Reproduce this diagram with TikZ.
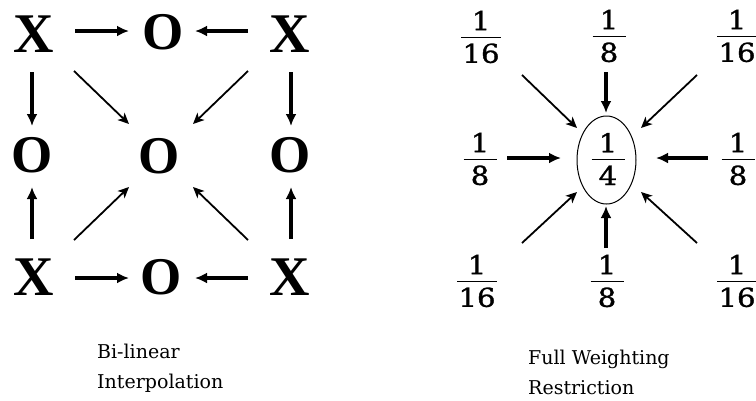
\documentclass[tikz,border=0pt]{standalone}
\usepackage{fontspec}
\usepackage{graphicx}
\setmainfont{Liberation Serif}
\newfontfamily\capfont{DejaVu Serif}
\newfontfamily\fracfont[FakeBold=1.2]{DejaVu Serif}
\usetikzlibrary{arrows.meta,shapes.geometric}
\newcommand{\widedig}[1]{\scalebox{1.12}[1]{#1}}
\newcommand{\myfr}[3]{\vbox{\offinterlineskip\hsize=#1
  \hbox to #1{\hfil\widedig{#2}\hfil}\vskip 6.5pt\hrule height 1.4pt\vskip 5.5pt
  \hbox to #1{\hfil\widedig{#3}\hfil}}}
\begin{document}
\begin{tikzpicture}[x=1pt,y=-1pt,
  bigx/.style={font=\fontsize{56}{56}\selectfont\bfseries, inner sep=0pt},
  bigo/.style={font=\fontsize{53}{53}\selectfont\bfseries, inner sep=0pt},
  frac/.style={font=\fracfont\fontsize{26}{30}\selectfont, inner sep=0pt},
  captxt/.style={font=\capfont\fontsize{19}{30}\selectfont, align=left, anchor=north west, inner sep=0pt},
  thickarr/.style={line width=3.2pt, -{Latex[length=12pt,width=11pt]}},
  thinarr/.style={line width=1.8pt, -{Stealth[length=11pt,width=10pt,inset=3pt]}}]
\useasboundingbox (0,0) rectangle (756,400);
% left grid
\node[bigx] (x1) at (34,34) {X};
\node[bigo] (o1) at (163,32) {O};
\node[bigx] (x2) at (290,34) {X};
\node[bigo] (o2) at (32,155) {O};
\node[bigo] (o0) at (159,156) {O};
\node[bigo] (o3) at (290,155) {O};
\node[bigx] (x3) at (34,277) {X};
\node[bigo] (o4) at (161,277) {O};
\node[bigx] (x4) at (290,277) {X};
\coordinate (a1) at (75,31); \coordinate (b1) at (129,31);
\coordinate (a2) at (248,31); \coordinate (b2) at (195,31);
\coordinate (a3) at (75,278); \coordinate (b3) at (129,278);
\coordinate (a4) at (248,278); \coordinate (b4) at (195,278);
\coordinate (a5) at (32,72); \coordinate (b5) at (32,126);
\coordinate (a6) at (291,72); \coordinate (b6) at (291,126);
\coordinate (a7) at (32,239); \coordinate (b7) at (32,187);
\coordinate (a8) at (291,239); \coordinate (b8) at (291,187);
\draw[thickarr] (a1) -- (b1);
\draw[thickarr] (a2) -- (b2);
\draw[thickarr] (a3) -- (b3);
\draw[thickarr] (a4) -- (b4);
\draw[thickarr] (a5) -- (b5);
\draw[thickarr] (a6) -- (b6);
\draw[thickarr] (a7) -- (b7);
\draw[thickarr] (a8) -- (b8);
\coordinate (d1) at (74,71); \coordinate (e1) at (129,124);
\coordinate (d2) at (248,71); \coordinate (e2) at (193,124);
\coordinate (d3) at (74,240); \coordinate (e3) at (129,187);
\coordinate (d4) at (248,240); \coordinate (e4) at (193,187);
\draw[thinarr] (d1) -- (e1);
\draw[thinarr] (d2) -- (e2);
\draw[thinarr] (d3) -- (e3);
\draw[thinarr] (d4) -- (e4);
\node[captxt] (c1) at (97,344) {Bi-linear\\Interpolation};
% right diagram
\node[frac] (f1) at (481,37) {\myfr{40pt}{1}{16}};
\node[frac] (f2) at (609,36) {\myfr{33pt}{1}{8}};
\node[frac] (f3) at (737,36) {\myfr{40pt}{1}{16}};
\node[frac] (f4) at (480,159) {\myfr{33pt}{1}{8}};
\node[frac] (f0) at (608,159) {\myfr{33pt}{1}{4}};
\node[frac] (f5) at (738,159) {\myfr{33pt}{1}{8}};
\node[frac] (f6) at (477,281) {\myfr{40pt}{1}{16}};
\node[frac] (f7) at (607,281) {\myfr{33pt}{1}{8}};
\node[frac] (f8) at (737,281) {\myfr{40pt}{1}{16}};
\node[draw, ellipse, line width=1pt, minimum width=59pt, minimum height=88pt, inner sep=0pt] (el) at (606.5,160) {};
\coordinate (g1) at (606,72); \coordinate (h1) at (606,113);
\coordinate (g2) at (606,248); \coordinate (h2) at (606,206);
\coordinate (g3) at (507,158); \coordinate (h3) at (561,158);
\coordinate (g4) at (708,158); \coordinate (h4) at (656,158);
\draw[thickarr] (g1) -- (h1);
\draw[thickarr] (g2) -- (h2);
\draw[thickarr] (g3) -- (h3);
\draw[thickarr] (g4) -- (h4);
\coordinate (k1) at (522,75); \coordinate (m1) at (577,128);
\coordinate (k2) at (697,75); \coordinate (m2) at (641,128);
\coordinate (k3) at (522,243); \coordinate (m3) at (577,192);
\coordinate (k4) at (697,243); \coordinate (m4) at (641,192);
\draw[thinarr] (k1) -- (m1);
\draw[thinarr] (k2) -- (m2);
\draw[thinarr] (k3) -- (m3);
\draw[thinarr] (k4) -- (m4);
\node[captxt] (c2) at (528,350) {Full Weighting\\Restriction};
\end{tikzpicture}
\end{document}
